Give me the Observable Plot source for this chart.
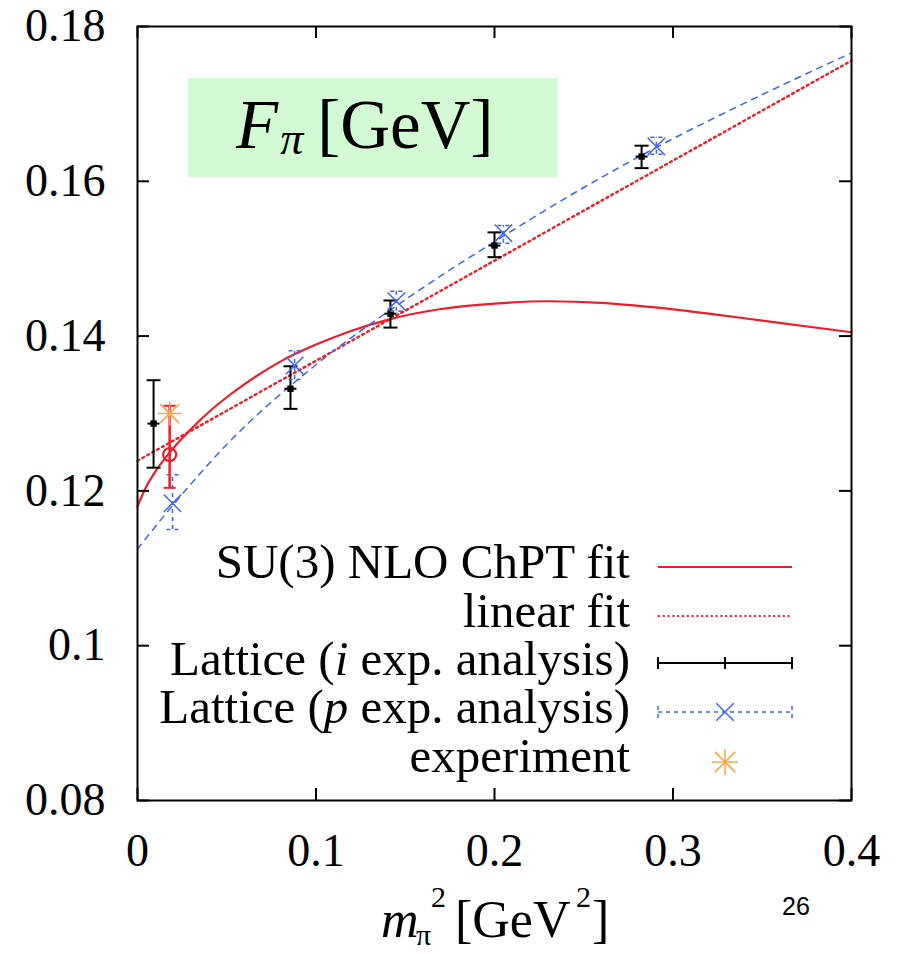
<!DOCTYPE html>
<html><head><meta charset="utf-8">
<script src="https://cdn.jsdelivr.net/npm/d3@7"></script>
<script src="https://cdn.jsdelivr.net/npm/@observablehq/plot@0.6"></script>
<style>body{margin:0;background:#fff} svg{display:block}</style>
</head><body><div id="chart"></div>
<script>
// ---- data ----
const xTicks = [0, 0.1, 0.2, 0.3, 0.4];
const yTicks = [0.08, 0.1, 0.12, 0.14, 0.16, 0.18];

// Lattice (i exp. analysis)
const latIX  = [0.009, 0.0857, 0.1417, 0.2, 0.2824];
const latIY  = [0.1287, 0.1332, 0.1429, 0.1517, 0.1632];
const latILo = [0.1230, 0.1306, 0.1411, 0.1502, 0.1617];
const latIHi = [0.1343, 0.1361, 0.1446, 0.1534, 0.1646];

// Lattice (p exp. analysis)
const latPX  = [0.0196, 0.088, 0.145, 0.205, 0.2907];
const latPY  = [0.1184, 0.1362, 0.1445, 0.1533, 0.1645];
const latPLo = [0.1150, 0.1344, 0.1432, 0.1520, 0.1635];
const latPHi = [0.1221, 0.1381, 0.1458, 0.1543, 0.1657];

// chiral-limit extrapolated point (red circle)
const chiX = [0.018], chiY = [0.1247], chiLo = [0.1204], chiHi = [0.1310];
// experiment
const expX = [0.018], expY = [0.1300];

// SU(3) NLO ChPT fit curve
const chptX = [0, 0.005, 0.01, 0.02, 0.03, 0.04, 0.05, 0.06, 0.08, 0.10, 0.12, 0.14, 0.17, 0.20, 0.23, 0.26, 0.29, 0.32, 0.35, 0.40];
const chptY = [0.1180, 0.1206, 0.1225, 0.1255, 0.1280, 0.1302, 0.1321, 0.1338, 0.1367, 0.1389, 0.1407, 0.1421, 0.1435, 0.1442, 0.1445, 0.1443, 0.1437, 0.1429, 0.1420, 0.1405];
// linear fit
const linX = [0, 0.4], linY = [0.1239, 0.1756];
// p-expansion fit (blue dashed)
const pfitX = [0, 0.02, 0.05, 0.1, 0.15, 0.2, 0.25, 0.3, 0.35, 0.4];
const pfitY = [0.1125, 0.1182, 0.1260, 0.1363, 0.1447, 0.1522, 0.1592, 0.1655, 0.1712, 0.1766];

// title box (data coordinates)
const titleBox = [{x1: 0.0286, x2: 0.2353, y1: 0.1605, y2: 0.1733}];

// ---- build tables ----
const zip = (xs, ys, lo, hi) => xs.map((x, i) => ({x, y: ys[i], lo: lo ? lo[i] : null, hi: hi ? hi[i] : null}));
const latI = zip(latIX, latIY, latILo, latIHi);
const latP = zip(latPX, latPY, latPLo, latPHi);
const chi = zip(chiX, chiY, chiLo, chiHi);
const expt = zip(expX, expY);
const chpt = zip(chptX, chptY);
const lin = zip(linX, linY);
const pfit = zip(pfitX, pfitY);

const RED = "#f01c28", BLUE = "#3f63f5", ORANGE = "#f5a84c";
const cap = {draw(ctx, size) { const r = Math.sqrt(size / Math.PI); ctx.moveTo(-r, 0); ctx.lineTo(r, 0); }};
const star = {draw(ctx, size) {
  const r = Math.sqrt(size / Math.PI), d = r * 0.78;
  ctx.moveTo(-r, 0); ctx.lineTo(r, 0); ctx.moveTo(0, -r); ctx.lineTo(0, r);
  ctx.moveTo(-d, -d); ctx.lineTo(d, d); ctx.moveTo(-d, d); ctx.lineTo(d, -d);
}};

const W = 902, H = 954, mL = 137, mR = 51, mT = 26, mB = 154;
const pW = W - mL - mR, pH = H - mT - mB;
const serif = "'Liberation Serif','Times New Roman',serif";

const chart = Plot.plot({
  width: W, height: H, marginLeft: mL, marginRight: mR, marginTop: mT, marginBottom: mB,
  x: {domain: [0, 0.4], label: null},
  y: {domain: [0.08, 0.18], label: null},
  style: {fontFamily: serif, background: "#fff", color: "black", fontSize: "46px", overflow: "visible"},
  marks: [
    Plot.rect(titleBox, {x1: "x1", x2: "x2", y1: "y1", y2: "y2", fill: "#d3fbd3"}),
    // curves
    Plot.line(chpt, {x: "x", y: "y", stroke: RED, strokeWidth: 2.2, curve: "monotone-x"}),
    Plot.line(lin, {x: "x", y: "y", stroke: RED, strokeWidth: 2.4, strokeDasharray: "2,3.6"}),
    Plot.line(pfit, {x: "x", y: "y", stroke: BLUE, strokeWidth: 1.5, strokeDasharray: "6,6", curve: "monotone-x"}),
    // lattice i
    Plot.ruleX(latI, {x: "x", y1: "lo", y2: "hi", stroke: "black", strokeWidth: 2}),
    Plot.dot(latI, {x: "x", y: "lo", symbol: cap, r: 7, stroke: "black", strokeWidth: 2}),
    Plot.dot(latI, {x: "x", y: "hi", symbol: cap, r: 7, stroke: "black", strokeWidth: 2}),
    Plot.dot(latI, {x: "x", y: "y", symbol: "square", r: 3.6, fill: "black"}),
    Plot.dot(latI, {x: "x", y: "y", symbol: cap, r: 6, stroke: "black", strokeWidth: 2}),
    // lattice p
    Plot.ruleX(latP, {x: "x", y1: "lo", y2: "hi", stroke: BLUE, strokeWidth: 1.5, strokeDasharray: "4,4"}),
    Plot.dot(latP, {x: "x", y: "lo", symbol: cap, r: 6, stroke: BLUE, strokeWidth: 1.5, strokeDasharray: "4,4"}),
    Plot.dot(latP, {x: "x", y: "hi", symbol: cap, r: 6, stroke: BLUE, strokeWidth: 1.5, strokeDasharray: "4,4"}),
    Plot.dot(latP, {x: "x", y: "y", symbol: "times", r: 8, stroke: BLUE, strokeWidth: 1.5}),
    // chiral point
    Plot.ruleX(chi, {x: "x", y1: "lo", y2: "hi", stroke: RED, strokeWidth: 2.5}),
    Plot.dot(chi, {x: "x", y: "lo", symbol: cap, r: 6, stroke: RED, strokeWidth: 2}),
    Plot.dot(chi, {x: "x", y: "hi", symbol: cap, r: 6, stroke: RED, strokeWidth: 2}),
    Plot.dot(chi, {x: "x", y: "y", r: 6.5, stroke: RED, strokeWidth: 2.2, fill: "none"}),
    // experiment
    Plot.dot(expt, {x: "x", y: "y", symbol: star, r: 12, stroke: ORANGE, strokeWidth: 1.6}),
    // inward ticks
    Plot.tickX(xTicks, {x: d => d, insetTop: pH - 12, stroke: "black", strokeWidth: 2}),
    Plot.tickX(xTicks, {x: d => d, insetBottom: pH - 12, stroke: "black", strokeWidth: 2}),
    Plot.tickY(yTicks, {y: d => d, insetRight: pW - 12, stroke: "black", strokeWidth: 2}),
    Plot.tickY(yTicks, {y: d => d, insetLeft: pW - 12, stroke: "black", strokeWidth: 2}),
    Plot.axisX(xTicks, {anchor: "bottom", tickSize: 0, tickPadding: 33, fontSize: 46, label: null, tickFormat: d => String(d)}),
    Plot.axisY(yTicks, {anchor: "left", tickSize: 0, tickPadding: 32, fontSize: 46, label: null, tickFormat: d => String(d)}),
    Plot.frame({stroke: "black", strokeWidth: 2})
  ]
});
document.getElementById("chart").appendChild(chart);

// ---- rich text: title, legend, axis label, page number ----
const svg = d3.select(chart);
const g = svg.append("g").attr("font-family", serif).attr("fill", "black").attr("text-anchor", "start");

// title F_pi [GeV]
const t = g.append("text").attr("x", 236).attr("y", 148).attr("font-size", 69);
t.append("tspan").attr("font-style", "italic").text("F");
t.append("tspan").attr("font-style", "italic").attr("font-size", 46).attr("dx", 2).attr("dy", 6).text("π");
t.append("tspan").attr("dx", 14).attr("dy", -6).text("[GeV]");

// legend
const legend = [
  {parts: [["SU(3) NLO ChPT fit"]], y: 578},
  {parts: [["linear fit"]], y: 627},
  {parts: [["Lattice ("], ["i", 1], [" exp. analysis)"]], y: 675},
  {parts: [["Lattice ("], ["p", 1], [" exp. analysis)"]], y: 723},
  {parts: [["experiment"]], y: 772}
];
legend.forEach(row => {
  const tx = g.append("text").attr("x", 630).attr("y", row.y).attr("text-anchor", "end").attr("font-size", 49);
  row.parts.forEach(p => tx.append("tspan").attr("font-style", p[1] ? "italic" : null).text(p[0]));
});
const lx1 = 658, lx2 = 792, lxm = 725;
const s = svg.append("g");
s.append("line").attr("x1", lx1).attr("x2", lx2).attr("y1", 567).attr("y2", 567).attr("stroke", RED).attr("stroke-width", 2.2);
s.append("line").attr("x1", lx1).attr("x2", lx2).attr("y1", 616).attr("y2", 616).attr("stroke", RED).attr("stroke-width", 2).attr("stroke-dasharray", "2,2.8");
s.append("path").attr("d", `M${lx1},663H${lx2}M${lx1},657V669M${lxm},657V669M${lx2},657V669`).attr("stroke", "black").attr("stroke-width", 2).attr("fill", "none");
s.append("path").attr("d", `M${lx1},712H${lx2}M${lx1},706V718M${lx2},706V718`).attr("stroke", BLUE).attr("stroke-width", 1.5).attr("stroke-dasharray", "4,4").attr("fill", "none");
s.append("path").attr("d", d3.symbol(d3.symbolTimes, 64 * Math.PI)()).attr("transform", `translate(${lxm},712)`).attr("stroke", BLUE).attr("stroke-width", 1.5).attr("fill", "none");
s.append("path").attr("d", d3.symbol(star, 169 * Math.PI)()).attr("transform", `translate(${lxm},762)`).attr("stroke", ORANGE).attr("stroke-width", 1.6).attr("fill", "none");

// x label m_pi^2 [GeV^2]
const xl = g.append("g").attr("font-size", 52);
xl.append("text").attr("x", 381).attr("y", 937).attr("font-style", "italic").text("m");
xl.append("text").attr("x", 416).attr("y", 945).attr("font-size", 30).text("π");
xl.append("text").attr("x", 431).attr("y", 907).attr("font-size", 30).text("2");
xl.append("text").attr("x", 455).attr("y", 937).text("[GeV");
xl.append("text").attr("x", 576).attr("y", 907).attr("font-size", 30).text("2");
xl.append("text").attr("x", 592).attr("y", 937).text("]");

// page number
svg.append("text").attr("x", 782).attr("y", 915).attr("text-anchor", "start").attr("font-family", "'Liberation Sans',Arial,sans-serif").attr("font-size", 25).attr("fill", "black").text("26");
</script>
</body></html>
